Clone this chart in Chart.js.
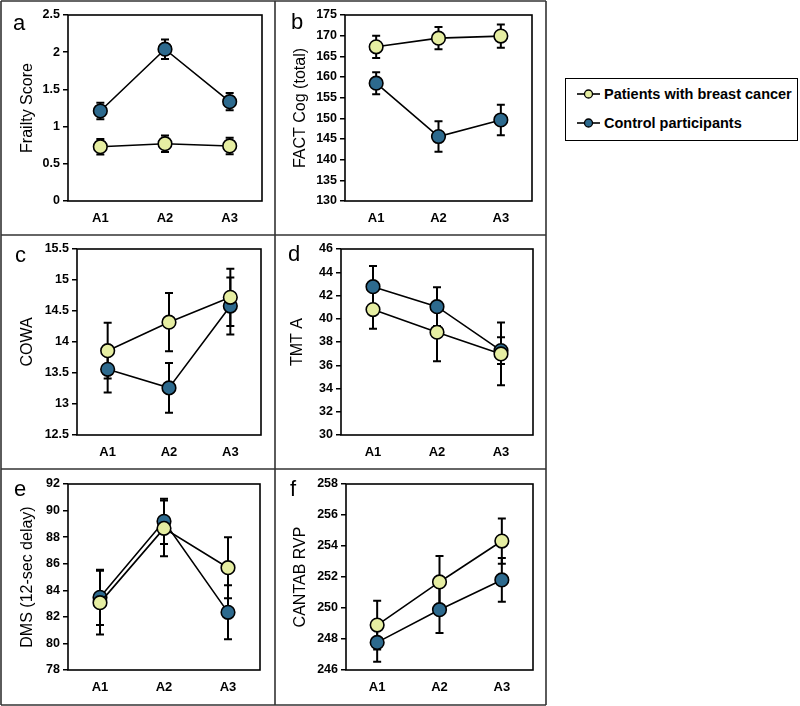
<!DOCTYPE html>
<html><head><meta charset="utf-8">
<script src="https://cdn.jsdelivr.net/npm/chart.js@4.4.1/dist/chart.umd.min.js"></script>
<style>
html,body{margin:0;padding:0;background:#fff;}
body{width:800px;height:706px;position:relative;overflow:hidden;font-family:"Liberation Sans",Arial,sans-serif;}
canvas{position:absolute;}
#frames{position:absolute;left:0;top:0;}
#legend{position:absolute;left:565px;top:78px;width:233px;height:63px;border:1.5px solid #000;box-sizing:border-box;background:#fff;}
.lrow{position:absolute;left:10px;height:20px;display:flex;align-items:center;font-weight:bold;font-size:14.5px;color:#000;white-space:nowrap;}
.lrow svg{margin-right:3px;}
</style></head><body>
<svg id="frames" width="800" height="706"></svg>
<div id="legend"></div>
<script>
// ---------- data ----------
const categories = ['A1', 'A2', 'A3'];
const seriesNames = ['Patients with breast cancer', 'Control participants'];

const frailtyPatients = [0.73, 0.77, 0.74];
const frailtyPatientsErr = [0.105, 0.11, 0.11];
const frailtyControls = [1.21, 2.04, 1.335];
const frailtyControlsErr = [0.11, 0.13, 0.115];

const factPatients = [167.3, 169.4, 169.9];
const factPatientsErr = [2.7, 2.7, 2.8];
const factControls = [158.5, 145.6, 149.6];
const factControlsErr = [2.65, 3.7, 3.7];

const cowaPatients = [13.86, 14.32, 14.72];
const cowaPatientsErr = [0.45, 0.47, 0.46];
const cowaControls = [13.56, 13.26, 14.58];
const cowaControlsErr = [0.375, 0.40, 0.46];

const tmtPatients = [40.79, 38.84, 36.97];
const tmtPatientsErr = [1.64, 2.5, 2.7];
const tmtControls = [42.76, 41.04, 37.26];
const tmtControlsErr = [1.78, 1.66, 1.15];

const dmsPatients = [83.07, 88.66, 85.7];
const dmsPatientsErr = [2.4, 2.1, 2.3];
const dmsControls = [83.47, 89.19, 82.34];
const dmsControlsErr = [2.08, 1.7, 2.03];

const rvpPatients = [248.9, 251.68, 254.32];
const rvpPatientsErr = [1.57, 1.67, 1.46];
const rvpControls = [247.78, 249.89, 251.81];
const rvpControlsErr = [1.24, 1.5, 1.41];

const panelLetters = ['a', 'b', 'c', 'd', 'e', 'f'];
const yTitles = ['Frailty Score', 'FACT Cog (total)', 'COWA', 'TMT A', 'DMS (12-sec delay)', 'CANTAB RVP'];
const yRanges = [[0, 2.5, 0.5], [130, 175, 5], [12.5, 15.5, 0.5], [30, 46, 2], [78, 92, 2], [246, 258, 2]];

// ---------- layout & style ----------
const PAT_FILL = '#e6eea2';
const CTL_FILL = '#2d6a8e';
const FONT = '"Liberation Sans", Arial, sans-serif';
const layouts = [
  {cell: [1, 1, 274, 234],   area: [68, 15, 262, 201],  titleX: 28,  letter: [13, 30]},
  {cell: [275, 1, 271, 234], area: [345, 15, 532, 201], titleX: 301, letter: [291, 29]},
  {cell: [1, 235, 274, 234], area: [77, 249, 261, 435], titleX: 28,  letter: [15, 262]},
  {cell: [275, 235, 271, 234], area: [341, 249, 533, 435], titleX: 298, letter: [288, 261]},
  {cell: [1, 469, 274, 236], area: [68, 484, 260, 670], titleX: 28,  letter: [14, 496]},
  {cell: [275, 469, 271, 236], area: [346, 484, 533, 670], titleX: 301, letter: [290, 496]}
];

const seriesData = [
  [frailtyPatients, frailtyPatientsErr, frailtyControls, frailtyControlsErr],
  [factPatients, factPatientsErr, factControls, factControlsErr],
  [cowaPatients, cowaPatientsErr, cowaControls, cowaControlsErr],
  [tmtPatients, tmtPatientsErr, tmtControls, tmtControlsErr],
  [dmsPatients, dmsPatientsErr, dmsControls, dmsControlsErr],
  [rvpPatients, rvpPatientsErr, rvpControls, rvpControlsErr]
];

// ---------- frames ----------
(function () {
  const svg = document.getElementById('frames');
  const ns = 'http://www.w3.org/2000/svg';
  function line(x1, y1, x2, y2) {
    const l = document.createElementNS(ns, 'line');
    l.setAttribute('x1', x1); l.setAttribute('y1', y1);
    l.setAttribute('x2', x2); l.setAttribute('y2', y2);
    l.setAttribute('stroke', '#333'); l.setAttribute('stroke-width', '1.6');
    svg.appendChild(l);
  }
  line(1, 1, 546, 1); line(1, 705, 546, 705);
  line(1, 1, 1, 705); line(546, 1, 546, 705);
  line(275, 1, 275, 705);
  line(1, 235, 546, 235); line(1, 469, 546, 469);
})();

// ---------- legend ----------
(function () {
  const lg = document.getElementById('legend');
  const fills = [PAT_FILL, CTL_FILL];
  const tops = [5, 34];
  seriesNames.forEach((name, i) => {
    const row = document.createElement('div');
    row.className = 'lrow';
    row.style.top = tops[i] + 'px';
    row.innerHTML = '<svg width="25" height="12"><line x1="1" y1="6" x2="24" y2="6" stroke="#000" stroke-width="1.6"/>' +
      '<circle cx="12.5" cy="6" r="4" fill="' + fills[i] + '" stroke="#000" stroke-width="1.3"/></svg>';
    const sp = document.createElement('span');
    sp.textContent = name;
    row.appendChild(sp);
    lg.appendChild(row);
  });
})();

// ---------- plugins ----------
const framePlugin = {
  id: 'plotFrame',
  beforeDatasetsDraw(chart) {
    const {ctx, chartArea: a} = chart;
    ctx.save();
    ctx.strokeStyle = '#000';
    ctx.lineWidth = 1.6;
    ctx.strokeRect(a.left, a.top, a.right - a.left, a.bottom - a.top);
    ctx.restore();
  }
};
const errorBarPlugin = {
  id: 'errorBars',
  beforeDatasetsDraw(chart) {
    const {ctx} = chart;
    const xs = chart.scales.x, ys = chart.scales.y;
    ctx.save();
    ctx.strokeStyle = '#000';
    ctx.lineWidth = 2;
    chart.data.datasets.forEach(ds => {
      ds.data.forEach((v, i) => {
        const e = ds.errors[i];
        const x = xs.getPixelForValue(i);
        const y1 = ys.getPixelForValue(v + e);
        const y2 = ys.getPixelForValue(v - e);
        ctx.beginPath();
        ctx.moveTo(x, y1); ctx.lineTo(x, y2);
        ctx.moveTo(x - 4, y1); ctx.lineTo(x + 4, y1);
        ctx.moveTo(x - 4, y2); ctx.lineTo(x + 4, y2);
        ctx.stroke();
      });
    });
    ctx.restore();
  }
};
const letterPlugin = {
  id: 'panelLetter',
  afterDraw(chart, args, opts) {
    const {ctx} = chart;
    ctx.save();
    ctx.fillStyle = '#000';
    ctx.font = '22px ' + FONT;
    ctx.textBaseline = 'alphabetic';
    ctx.textAlign = 'left';
    ctx.fillText(opts.text, opts.x, opts.y);
    ctx.restore();
  }
};

// ---------- charts ----------
function buildCharts() {
  layouts.forEach((L, p) => {
    const [cx, cy, cw, ch] = L.cell;
    const [al, at, ar, ab] = L.area;
    const cv = document.createElement('canvas');
    cv.width = cw; cv.height = ch;
    cv.style.left = cx + 'px'; cv.style.top = cy + 'px';
    cv.style.width = cw + 'px'; cv.style.height = ch + 'px';
    document.body.insertBefore(cv, document.getElementById('frames'));
    const [pv, pe, cvals, ce] = seriesData[p];
    const [ymin, ymax, ystep] = yRanges[p];
    const titleFont = 16;
    const titlePad = (L.titleX - cx) - titleFont * 1.2 / 2;
    new Chart(cv, {
      type: 'line',
      data: {
        labels: categories,
        datasets: [
          {label: seriesNames[0], data: pv, errors: pe, borderColor: '#000', borderWidth: 1.6,
           pointRadius: 6.8, pointBorderWidth: 1.6, pointBorderColor: '#000', pointBackgroundColor: PAT_FILL, fill: false, tension: 0},
          {label: seriesNames[1], data: cvals, errors: ce, borderColor: '#000', borderWidth: 1.6,
           pointRadius: 6.8, pointBorderWidth: 1.6, pointBorderColor: '#000', pointBackgroundColor: CTL_FILL, fill: false, tension: 0}
        ]
      },
      options: {
        responsive: false, animation: false, devicePixelRatio: 1, events: [],
        layout: {padding: {left: 0, top: at - cy, right: (cx + cw) - ar, bottom: 0}},
        plugins: {
          legend: {display: false}, tooltip: {enabled: false},
          panelLetter: {text: panelLetters[p], x: L.letter[0] - cx, y: L.letter[1] - cy}
        },
        scales: {
          x: {
            type: 'category', offset: true,
            grid: {display: false, drawTicks: false},
            border: {display: false},
            ticks: {color: '#000', padding: 10, font: {family: FONT, size: 13, weight: 'bold'}},
            afterFit: s => { s.height = (cy + ch) - ab; }
          },
          y: {
            min: ymin, max: ymax,
            grid: {display: true, drawOnChartArea: false, drawTicks: true, tickLength: 5, color: '#000', lineWidth: 1.5},
            border: {display: false},
            ticks: {stepSize: ystep, color: '#000', padding: 3, font: {family: FONT, size: 12.5, weight: 'bold'},
                    callback: v => String(Math.round(v * 100) / 100)},
            title: {display: true, text: yTitles[p], color: '#000', padding: {top: titlePad, bottom: 0},
                    font: {family: FONT, size: titleFont, weight: 'normal'}},
            afterFit: s => { s.width = al - cx; }
          }
        }
      },
      plugins: [framePlugin, errorBarPlugin, letterPlugin]
    });
  });
}
Promise.all([
  document.fonts.load('bold 12px "Liberation Sans"'),
  document.fonts.load('16px "Liberation Sans"')
]).catch(() => {}).then(buildCharts);
</script>
</body></html>
